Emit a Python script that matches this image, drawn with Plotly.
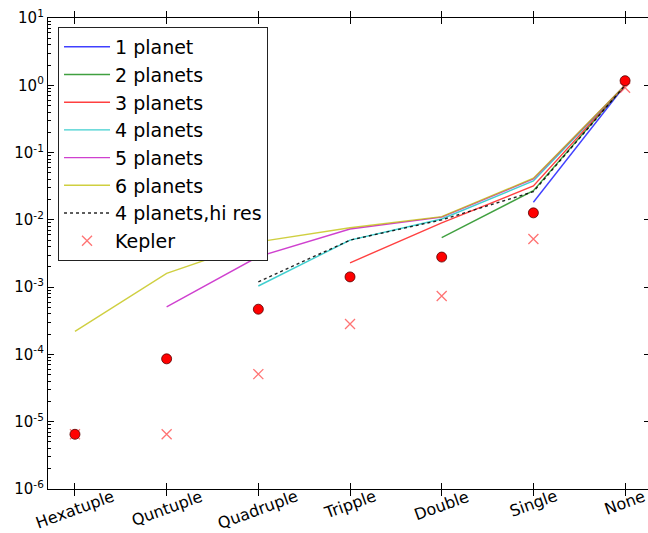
import plotly.graph_objects as go

categories = ["Hexatuple", "Quntuple", "Quadruple", "Tripple", "Double", "Single", "None"]

# fraction of systems in each multiplicity class (None = missing point)
one_planet = [None, None, None, None, None, 0.0183, 1.0]
two_planets = [None, None, None, None, 0.00544, 0.0272, 1.0]
three_planets = [None, None, None, 0.0023, 0.0090, 0.0319, 1.0]
four_planets = [None, None, 0.00104, 0.0050, 0.0103, 0.0378, 1.0]
five_planets = [None, 0.00051, 0.00284, 0.0073, 0.0110, 0.0405, 1.0]
six_planets = [0.00022, 0.0016, 0.0047, 0.00765, 0.01116, 0.0415, 1.0]
four_planets_hires = [None, None, 0.0012, 0.0050, 0.0100, 0.0262, 1.0]
kepler = [6.5e-6, 6.5e-6, 5.1e-5, 2.84e-4, 7.4e-4, 5.2e-3, 0.92]
observed = [6.5e-6, 8.6e-5, 4.7e-4, 1.42e-3, 2.8e-3, 1.27e-2, 1.17]

decade_vals = [1e-6, 1e-5, 1e-4, 1e-3, 1e-2, 1e-1, 1e0, 1e1]
decade_text = ["10<sup>-6</sup>", "10<sup>-5</sup>", "10<sup>-4</sup>", "10<sup>-3</sup>",
               "10<sup>-2</sup>", "10<sup>-1</sup>", "10<sup>0</sup>", "10<sup>1</sup>"]

FONT = "DejaVu Sans, Liberation Sans, sans-serif"

line_series = [
    ("1 planet", one_planet, "rgba(0,0,255,0.75)", "solid"),
    ("2 planets", two_planets, "rgba(0,128,0,0.75)", "solid"),
    ("3 planets", three_planets, "rgba(255,0,0,0.75)", "solid"),
    ("4 planets", four_planets, "rgba(0,191,191,0.75)", "solid"),
    ("5 planets", five_planets, "rgba(191,0,191,0.75)", "solid"),
    ("6 planets", six_planets, "rgba(191,191,0,0.75)", "solid"),
    ("4 planets,hi res", four_planets_hires, "rgba(0,0,0,0.85)", "dot"),
]

fig = go.Figure()
for i, (name, vals, color, dash) in enumerate(line_series):
    fig.add_trace(go.Scatter(
        x=categories, y=vals, mode="lines", name=name,
        line=dict(color=color, width=1.4, dash=dash),
        connectgaps=False, legendgroup=f"g{i}",
    ))

fig.add_trace(go.Scatter(
    x=categories, y=kepler, mode="markers", name="Kepler", legendgroup="gk",
    marker=dict(symbol="x-thin", size=10,
                line=dict(color="rgba(255,0,0,0.55)", width=1.3)),
))

fig.add_trace(go.Scatter(
    x=categories, y=observed, mode="markers", showlegend=False,
    marker=dict(symbol="circle", size=10, color="#ff0000",
                line=dict(color="#550000", width=0.8)),
))

# empty trace carrying the right-hand tick axis
fig.add_trace(go.Scatter(x=[], y=[], yaxis="y2", showlegend=False, hoverinfo="skip"))

# rotated category labels under each tick
for c in categories:
    fig.add_annotation(
        x=c, y=0, xref="x", yref="paper", text=c, showarrow=False,
        textangle=-20, xanchor="center", yanchor="top", yshift=5,
        font=dict(family=FONT, size=16, color="#000"),
    )

fig.update_layout(
    width=648, height=533,
    margin=dict(l=48, r=0, t=18, b=44),
    paper_bgcolor="white", plot_bgcolor="white",
    font=dict(family=FONT, color="#000"),
    showlegend=True,
    legend=dict(
        x=0.0167, y=0.981, xanchor="left", yanchor="top",
        bgcolor="white", bordercolor="#222", borderwidth=1,
        font=dict(family=FONT, size=19, color="#000"),
        tracegroupgap=0, itemwidth=46,
    ),
    xaxis=dict(
        type="category", categoryorder="array", categoryarray=categories,
        range=[-0.294, 6.25],
        showline=True, linecolor="#000", linewidth=1.3, mirror="allticks",
        ticks="inside", ticklen=6, tickcolor="#000", tickwidth=1,
        showticklabels=False, showgrid=False, zeroline=False,
    ),
    yaxis=dict(
        type="log", range=[-6, 1],
        showline=True, linecolor="#000", linewidth=1.3,
        ticks="inside", ticklen=6, tickcolor="#000", tickwidth=1,
        tickvals=decade_vals, ticktext=decade_text,
        tickfont=dict(family=FONT, size=15, color="#000"),
        minor=dict(ticks="inside", ticklen=3, tickcolor="#000", dtick="D1", showgrid=False),
        showgrid=False, zeroline=False,
    ),
    yaxis2=dict(
        type="log", range=[-6, 1], overlaying="y", side="right",
        showline=False, showticklabels=False, showgrid=False, zeroline=False,
        ticks="inside", ticklen=4, tickcolor="#000", tickwidth=1,
        tickvals=decade_vals,
    ),
)

fig.write_html("out.html")
